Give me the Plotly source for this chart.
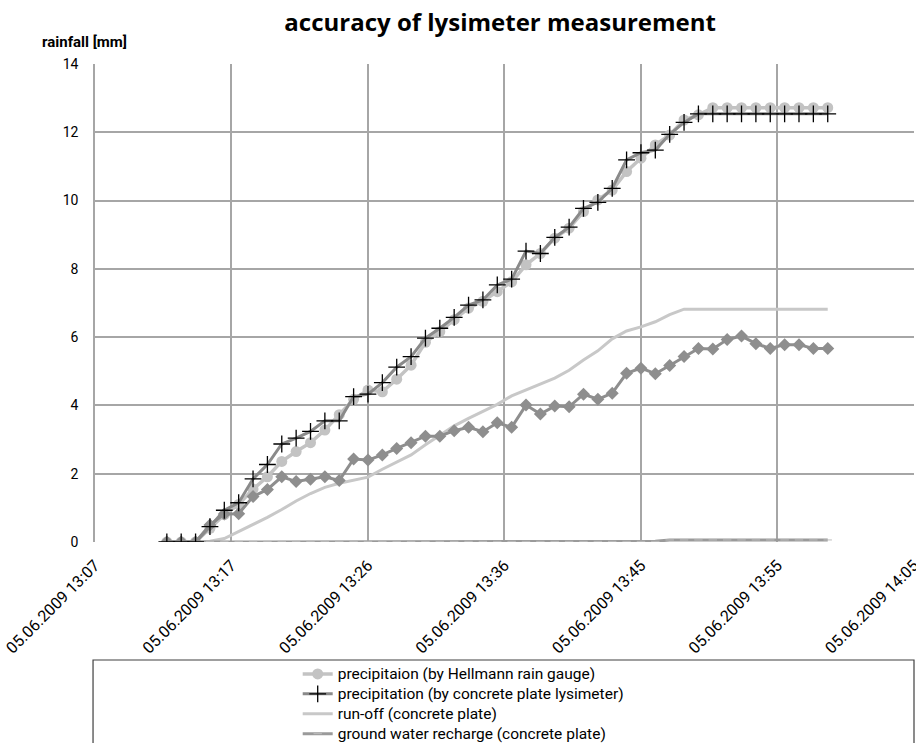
import plotly.graph_objects as go

# Sampling times (one reading per minute, 05.06.2009)
times = [
    "13:12:30", "13:13:30", "13:14:30", "13:15:30", "13:16:30", "13:17:30",
    "13:18:30", "13:19:30", "13:20:30", "13:21:30", "13:22:30", "13:23:30",
    "13:24:30", "13:25:30", "13:26:30", "13:27:30", "13:28:30", "13:29:30",
    "13:30:30", "13:31:30", "13:32:30", "13:33:30", "13:34:30", "13:35:30",
    "13:36:30", "13:37:30", "13:38:30", "13:39:30", "13:40:30", "13:41:30",
    "13:42:30", "13:43:30", "13:44:30", "13:45:30", "13:46:30", "13:47:30",
    "13:48:30", "13:49:30", "13:50:30", "13:51:30", "13:52:30", "13:53:30",
    "13:54:30", "13:55:30", "13:56:30", "13:57:30", "13:58:30",
]
date = "2009-06-05 "
x = [date + t for t in times]

# Cumulative values in mm
hellmann = [
    0, 0, 0, 0.40, 0.80, 1.10, 1.55, 1.91, 2.36, 2.65, 2.91, 3.28,
    3.73, 4.18, 4.45, 4.40, 4.77, 5.18, 5.85, 6.16, 6.51, 6.85, 7.05, 7.33,
    7.62, 8.12, 8.45, 8.90, 9.19, 9.68, 10.02, 10.31, 10.85, 11.24, 11.63, 11.92,
    12.36, 12.51, 12.72, 12.72, 12.72, 12.72, 12.72, 12.72, 12.72, 12.72, 12.72,
]
lysimeter = [
    0, 0, 0, 0.45, 0.93, 1.15, 1.85, 2.27, 2.87, 3.04, 3.24, 3.55,
    3.55, 4.26, 4.33, 4.67, 5.12, 5.43, 5.97, 6.26, 6.58, 6.94, 7.09, 7.53,
    7.70, 8.52, 8.45, 8.92, 9.22, 9.77, 9.95, 10.36, 11.19, 11.40, 11.48, 11.94,
    12.29, 12.54, 12.54, 12.54, 12.54, 12.54, 12.54, 12.54, 12.54, 12.54, 12.54,
]
runoff = [
    0, 0, 0, 0.02, 0.10, 0.30, 0.52, 0.72, 0.95, 1.20, 1.42, 1.60,
    1.72, 1.80, 1.90, 2.13, 2.35, 2.55, 2.85, 3.12, 3.40, 3.62, 3.82, 4.03,
    4.28, 4.45, 4.62, 4.80, 5.03, 5.33, 5.60, 5.95, 6.18, 6.30, 6.45, 6.66,
    6.82, 6.82, 6.82, 6.82, 6.82, 6.82, 6.82, 6.82, 6.82, 6.82, 6.82,
]
recharge = [
    0, 0, 0, 0.02, 0.02, 0.02, 0.02, 0.02, 0.02, 0.02, 0.02, 0.02,
    0.02, 0.02, 0.02, 0.02, 0.02, 0.02, 0.02, 0.02, 0.02, 0.02, 0.02, 0.02,
    0.02, 0.02, 0.02, 0.02, 0.02, 0.02, 0.02, 0.02, 0.02, 0.02, 0.02, 0.06,
    0.06, 0.06, 0.06, 0.06, 0.06, 0.06, 0.06, 0.06, 0.06, 0.06, 0.06,
]
lysimeter_outflow = [
    0, 0, 0, 0.50, 0.82, 0.83, 1.33, 1.54, 1.91, 1.77, 1.84, 1.91,
    1.80, 2.43, 2.40, 2.55, 2.74, 2.91, 3.10, 3.10, 3.26, 3.36, 3.23, 3.49,
    3.36, 4.01, 3.75, 3.98, 3.96, 4.33, 4.18, 4.36, 4.94, 5.09, 4.93, 5.17,
    5.43, 5.67, 5.65, 5.93, 6.03, 5.81, 5.67, 5.78, 5.78, 5.67, 5.67,
]

tick_times = ["13:07:30", "13:17:00", "13:26:30", "13:36:00",
              "13:45:30", "13:55:00", "14:04:30"]
tick_labels = ["05.06.2009 13:07", "05.06.2009 13:17", "05.06.2009 13:26",
               "05.06.2009 13:36", "05.06.2009 13:45", "05.06.2009 13:55",
               "05.06.2009 14:05"]
y_ticks = [0, 2, 4, 6, 8, 10, 12, 14]

FONT = "Roboto, Arial, sans-serif"


def legend_label(text):
    return '<span style="font-size:15.5px">' + text + "</span>"


fig = go.Figure()

fig.add_trace(go.Scatter(
    x=x, y=hellmann, name=legend_label("precipitaion (by Hellmann rain gauge)"),
    mode="lines+markers", legendrank=1,
    line=dict(color="#c3c3c3", width=3.5),
    marker=dict(symbol="circle", size=11, color="#c3c3c3"),
))
fig.add_trace(go.Scatter(
    x=x, y=runoff, name=legend_label("run-off (concrete plate)"),
    mode="lines", legendrank=3,
    line=dict(color="#c8c8c8", width=3),
))
fig.add_trace(go.Scatter(
    x=x, y=recharge, name=legend_label("ground water recharge (concrete plate)"),
    mode="lines+markers", legendrank=4,
    line=dict(color="#9a9a9a", width=3),
    marker=dict(symbol="line-ew", size=6, color="#bdbdbd",
                line=dict(color="#bdbdbd", width=1)),
))
fig.add_trace(go.Scatter(
    x=x, y=lysimeter_outflow, name="lysimeter outflow",
    mode="lines+markers", showlegend=False,
    line=dict(color="#8e8e8e", width=3),
    marker=dict(symbol="diamond", size=10, color="#8e8e8e"),
))
fig.add_trace(go.Scatter(
    x=x, y=lysimeter,
    name=legend_label("precipitation (by concrete plate lysimeter)"),
    mode="lines+markers", legendrank=2,
    line=dict(color="#8a8a8a", width=3),
    marker=dict(symbol="cross-thin", size=12, color="#000000",
                line=dict(color="#000000", width=1.3)),
))

fig.update_layout(
    width=916, height=743,
    margin=dict(l=95, r=2, t=64, b=201, autoexpand=False),
    paper_bgcolor="white", plot_bgcolor="white",
    font=dict(family=FONT, size=12, color="#000000"),
    title=dict(text="<b>accuracy of lysimeter measurement</b>",
               x=0.546, xanchor="center", y=0.970, yanchor="middle",
               font=dict(family="Open Sans, sans-serif", size=24)),
    showlegend=True,
    legend=dict(x=0.2475, y=-0.2448, xanchor="left", yanchor="top",
                bgcolor="rgba(0,0,0,0)", borderwidth=0,
                font=dict(family=FONT, size=13), itemwidth=30),
    shapes=[dict(type="rect", xref="paper", yref="paper",
                 x0=-0.0024, x1=1.0, y0=-0.60, y1=-0.2469,
                 line=dict(color="#404040", width=1.2), layer="above")],
    annotations=[dict(text="<b>rainfall [mm]</b>", xref="paper", yref="paper",
                      x=-0.067, y=1.046, xanchor="left", yanchor="middle",
                      showarrow=False, font=dict(family=FONT, size=15))],
)

fig.update_xaxes(
    type="date", automargin=False,
    # end nudged a fraction of a second so the last tick stays in range
    range=[date + tick_times[0], date + tick_times[-1] + ".3"],
    tickvals=[date + t for t in tick_times], ticktext=tick_labels,
    tickangle=-45, tickfont=dict(size=16), ticklabelstandoff=10,
    ticklabeloverflow="allow",
    showgrid=True, gridcolor="#a6a6a6", gridwidth=1.5,
    showline=False, zeroline=False, ticks="",
)
fig.update_yaxes(
    range=[0, 14], tickvals=y_ticks, automargin=False,
    showgrid=True, gridcolor="#a6a6a6", gridwidth=1.5,
    showline=True, linecolor="#a6a6a6", linewidth=1.5,
    zeroline=False, ticks="", tickfont=dict(size=14), ticklabelstandoff=12,
)

fig.write_html("out.html")
